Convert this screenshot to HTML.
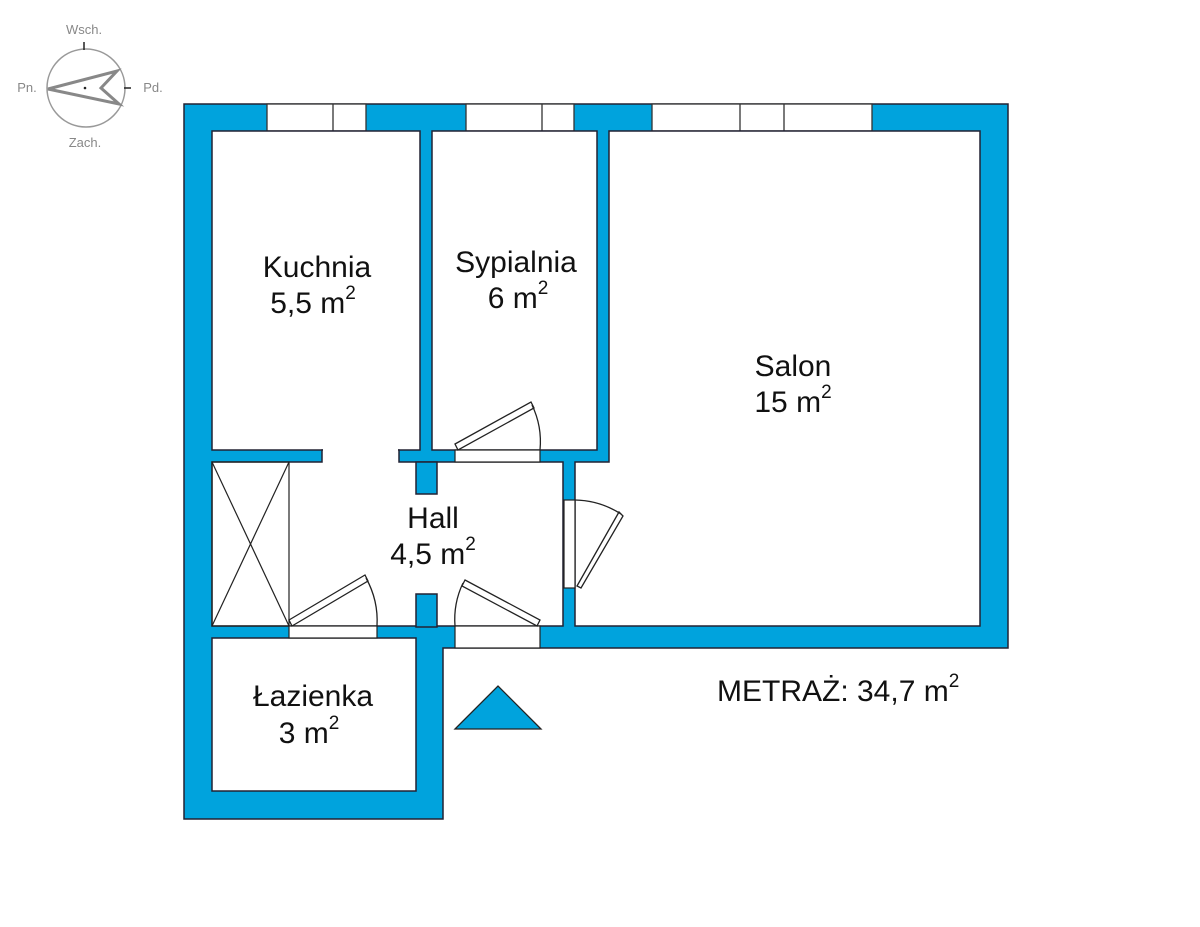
<!DOCTYPE html>
<html><head><meta charset="utf-8"><style>
html,body{margin:0;padding:0;background:#fff;}
svg{display:block;}
text{font-family:"Liberation Sans",Arial,sans-serif;}
</style></head><body>
<svg width="1200" height="927" viewBox="0 0 1200 927" xmlns="http://www.w3.org/2000/svg">
<g fill="#888" font-size="13" text-anchor="middle">
<text x="84" y="34">Wsch.</text>
<text x="27" y="92">Pn.</text>
<text x="153" y="92">Pd.</text>
<text x="85" y="147">Zach.</text>
</g>
<circle cx="86" cy="88" r="39" fill="none" stroke="#999" stroke-width="1.5"/>
<line x1="84" y1="42" x2="84" y2="50" stroke="#222" stroke-width="1.5"/>
<line x1="124" y1="88" x2="131" y2="88" stroke="#222" stroke-width="1.5"/>
<polygon points="48,89 117,71 101,88 119,104" fill="none" stroke="#888" stroke-width="3" stroke-linejoin="miter"/>
<circle cx="85" cy="88" r="1.3" fill="#222"/>

<polygon points="184,104 1008,104 1008,648 443,648 443,819 184,819" fill="#00a3dd" stroke="#223" stroke-width="1.5"/>
<g fill="#fff" stroke="#333" stroke-width="1.3">
<rect x="267" y="104" width="99" height="27"/>
<line x1="333" y1="104" x2="333" y2="131"/>
<rect x="466" y="104" width="108" height="27"/>
<line x1="542" y1="104" x2="542" y2="131"/>
<rect x="652" y="104" width="220" height="27"/>
<line x1="740" y1="104" x2="740" y2="131"/>
<line x1="784" y1="104" x2="784" y2="131"/>
</g>
<g fill="#fff" stroke="#223" stroke-width="1.5">
<rect x="212" y="131" width="208" height="319"/>
<rect x="432" y="131" width="165" height="319"/>
<polygon points="609,131 980,131 980,626 575,626 575,462 609,462"/>
<polygon points="212,462 322,462 322,450 399,450 399,462 563,462 563,626 212,626"/>
<rect x="212" y="638" width="204" height="153"/>
</g>
<rect x="323" y="449" width="75" height="14" fill="#fff"/>
<g fill="#00a3dd" stroke="#223" stroke-width="1.5">
<rect x="416" y="462" width="21" height="32"/>
<rect x="416" y="594" width="21" height="33"/>
</g>
<g stroke="#222" stroke-width="1.2" fill="none">
<rect x="212" y="462" width="77" height="164"/>
<line x1="212" y1="462" x2="289" y2="626"/>
<line x1="289" y1="462" x2="212" y2="626"/>
</g>
<g fill="#fff" stroke="#222" stroke-width="1.2">
<rect x="289" y="626" width="88" height="12"/>
<rect x="455" y="450" width="85" height="12"/>
<rect x="455" y="626" width="85" height="22"/>
<rect x="564" y="500" width="11" height="88"/>
</g>
<g fill="#fff" stroke="#222" stroke-width="1.3">
<polygon points="289,620 365,575 368,581 292,626"/>
<polygon points="455,444 531,402 534,408 458,450"/>
<polygon points="465,580 540,620 537,626 462,586"/>
<polygon points="577,586 619,512 623,516 581,588"/>
</g>
<g fill="none" stroke="#222" stroke-width="1.3">
<path d="M366,578 A88,88 0 0 1 377,626"/>
<path d="M532,405 A85,85 0 0 1 540,450"/>
<path d="M463,583 A85,85 0 0 0 455,626"/>
<path d="M575,500 A88,88 0 0 1 621,514"/>
</g>
<polygon points="455,729 541,729 498,686" fill="#00a3dd" stroke="#222" stroke-width="1.3"/>
<g font-size="30" text-anchor="middle" fill="#111">
<text x="317" y="277">Kuchnia</text>
<text x="313" y="313">5,5 m<tspan font-size="19" dy="-14">2</tspan></text>
<text x="516" y="272">Sypialnia</text>
<text x="518" y="308">6 m<tspan font-size="19" dy="-14">2</tspan></text>
<text x="793" y="376">Salon</text>
<text x="793" y="412">15 m<tspan font-size="19" dy="-14">2</tspan></text>
<text x="433" y="528">Hall</text>
<text x="433" y="564">4,5 m<tspan font-size="19" dy="-14">2</tspan></text>
<text x="313" y="706">Łazienka</text>
<text x="309" y="743">3 m<tspan font-size="19" dy="-14">2</tspan></text>
<text x="717" y="701" text-anchor="start">METRAŻ: 34,7 m<tspan font-size="19" dy="-14">2</tspan></text>
</g>
</svg>
</body></html>
